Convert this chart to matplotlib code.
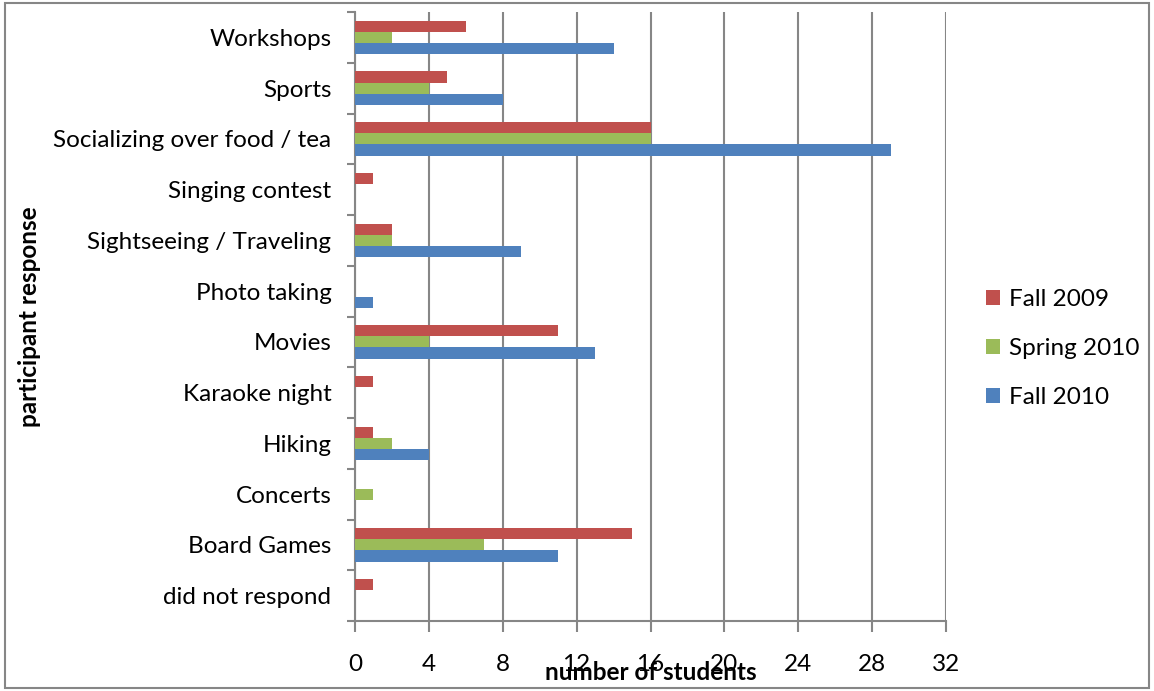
import matplotlib.pyplot as plt
import numpy as np
from matplotlib.patches import Rectangle

# categories bottom -> top, as they appear on the chart
categories = [
    "did not respond",
    "Board Games",
    "Concerts",
    "Hiking",
    "Karaoke night",
    "Movies",
    "Photo taking",
    "Sightseeing / Traveling",
    "Singing contest",
    "Socializing over food / tea",
    "Sports",
    "Workshops",
]
fall_2009 = [1, 15, 0, 1, 1, 11, 0, 2, 1, 16, 5, 6]
spring_2010 = [0, 7, 1, 2, 0, 4, 0, 2, 0, 16, 4, 2]
fall_2010 = [0, 11, 0, 4, 0, 13, 1, 9, 0, 29, 8, 14]
x_ticks = [0, 4, 8, 12, 16, 20, 24, 28, 32]

red = "#C0504D"
green = "#9BBB59"
blue = "#4F81BD"
grid_gray = "#868686"

plt.rcParams["font.family"] = ["Lato", "DejaVu Sans"]
fs = 17.5

fig = plt.figure(figsize=(11.54, 6.91), dpi=100)
ax = fig.add_axes([355 / 1154, 1 - 621 / 691, (946 - 355) / 1154, (621 - 12) / 691])

y = np.arange(len(categories))
h = 0.22
ax.barh(y - h, fall_2010, height=h, color=blue, label="Fall 2010", zorder=3)
ax.barh(y, spring_2010, height=h, color=green, label="Spring 2010", zorder=3)
ax.barh(y + h, fall_2009, height=h, color=red, label="Fall 2009", zorder=3)

ax.set_xlim(0, 32)
ax.set_ylim(-0.5, len(categories) - 0.5)
ax.set_xticks(x_ticks)
ax.set_yticks(y)
ax.set_yticklabels(categories, fontsize=fs)
ax.set_yticks(np.arange(len(categories) + 1) - 0.5, minor=True)
ax.tick_params(axis="y", which="major", length=0, pad=17)
ax.tick_params(axis="y", which="minor", length=6, width=1.5, color=grid_gray)
ax.tick_params(axis="x", length=8, width=1.5, color=grid_gray, pad=16, labelsize=fs)

ax.grid(axis="x", color=grid_gray, linewidth=1.5, zorder=0)
for side in ["top", "right"]:
    ax.spines[side].set_visible(False)
for side in ["left", "bottom"]:
    ax.spines[side].set_color(grid_gray)
    ax.spines[side].set_linewidth(1.5)

ax.set_xlabel("number of students", fontsize=fs, fontweight="bold")
ax.xaxis.set_label_coords(0.5, -0.066)
fig.text(30 / 1154, 1 - 317 / 691, "participant response", rotation=90,
         fontsize=fs, fontweight="bold", ha="center", va="center")

handles, labels = ax.get_legend_handles_labels()
ax.legend(handles[::-1], labels[::-1], loc="center left", bbox_to_anchor=(1.03, 0.447),
          frameon=False, fontsize=fs, handlelength=0.6, handleheight=0.6,
          labelspacing=1.15, handletextpad=0.35)

fig.patches.append(Rectangle((0.004, 0.004), 0.992, 0.992, transform=fig.transFigure,
                             fill=False, edgecolor=grid_gray, linewidth=1.5))

fig.savefig("out.png", dpi=100)
